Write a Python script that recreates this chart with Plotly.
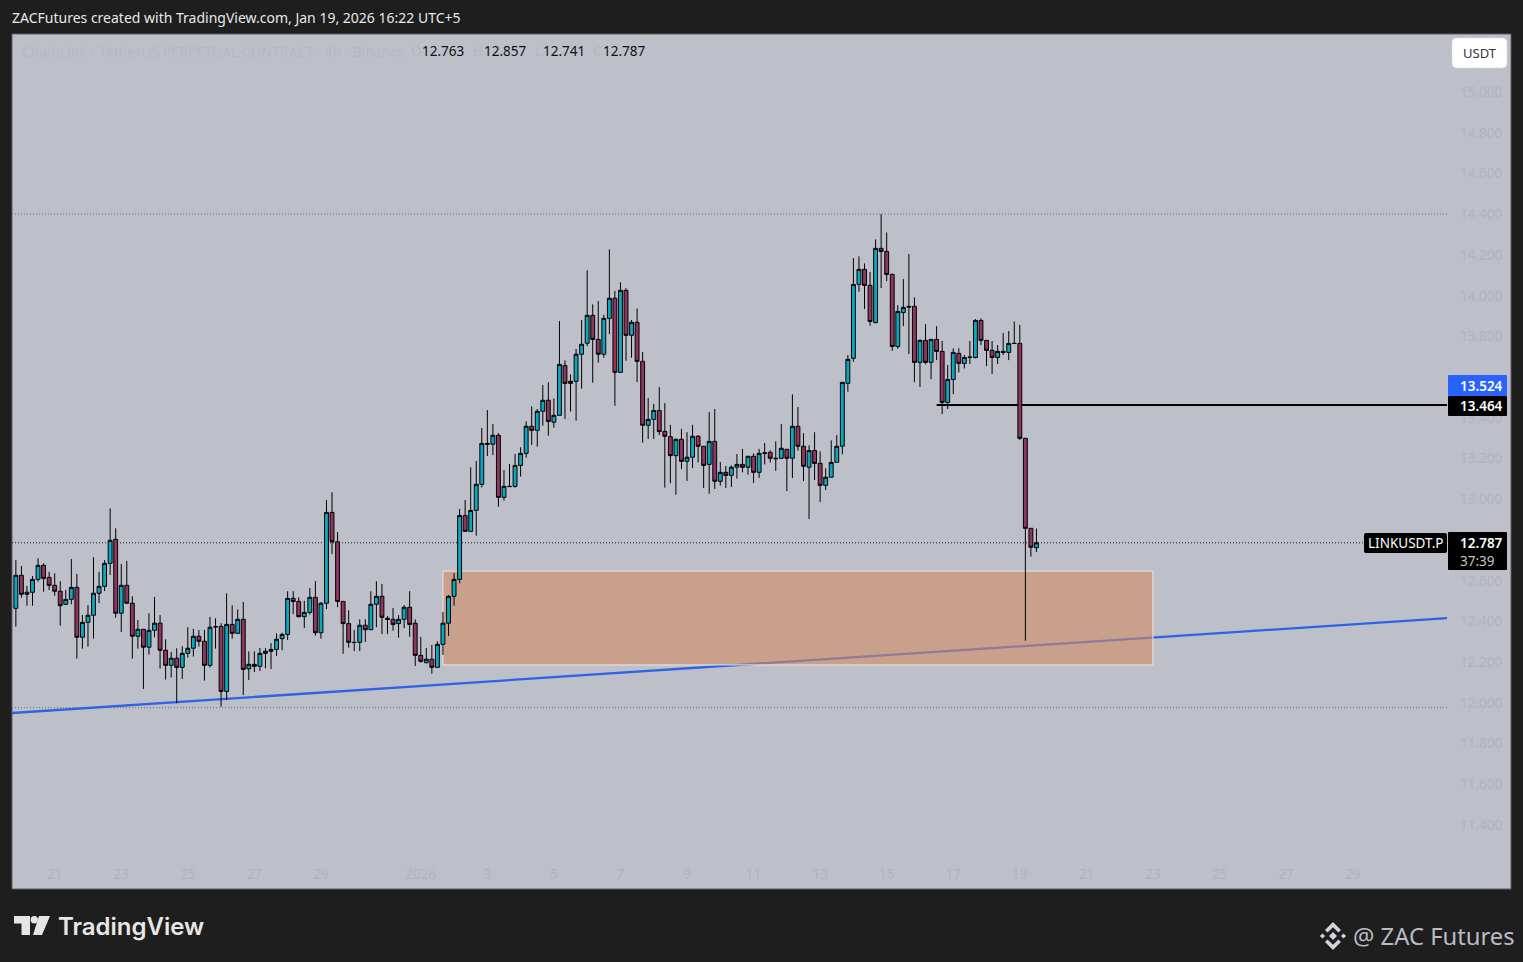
import pandas as pd
import plotly.graph_objects as go

W, H = 1523, 962
L, R, T, B = 12, 1447, 35, 857

opens = [12.465,12.627,12.534,12.544,12.607,12.676,12.617,12.578,12.549,12.485,12.509,12.568,12.323,12.396,12.431,12.539,12.573,12.686,12.804,12.441,
12.578,12.490,12.328,12.362,12.274,12.357,12.392,12.259,12.185,12.220,12.175,12.244,12.269,12.328,12.303,12.185,12.375,12.376,12.057,12.386,
12.342,12.411,12.168,12.190,12.180,12.244,12.254,12.263,12.316,12.337,12.514,12.499,12.424,12.445,12.519,12.345,12.490,12.936,12.792,12.499,
12.390,12.298,12.298,12.382,12.360,12.485,12.524,12.416,12.411,12.390,12.411,12.470,12.392,12.234,12.198,12.215,12.175,12.288,12.392,12.524,
12.607,12.921,12.843,12.946,13.074,13.275,13.271,13.315,13.010,13.064,13.064,13.167,13.226,13.359,13.339,13.433,13.487,13.379,13.413,13.658,
13.570,13.580,13.713,13.767,13.904,13.786,13.713,13.889,13.988,13.624,14.027,13.806,13.870,13.678,13.364,13.393,13.437,13.334,13.308,13.215,
13.295,13.187,13.207,13.310,13.261,13.172,13.285,13.089,13.133,13.118,13.158,13.172,13.158,13.212,13.133,13.229,13.231,13.202,13.202,13.246,
13.202,13.359,13.261,13.158,13.240,13.177,13.069,13.109,13.182,13.261,13.570,13.693,14.056,14.130,14.051,13.869,14.233,14.218,14.105,13.751,
13.918,13.948,13.948,13.673,13.781,13.673,13.786,13.727,13.476,13.589,13.717,13.668,13.697,13.697,13.879,13.781,13.732,13.697,13.727,13.722,
13.766,13.766,13.300,12.858,12.763]
highs = [12.702,12.673,12.575,12.624,12.711,12.686,12.644,12.637,12.598,12.555,12.707,12.634,12.432,12.481,12.716,12.644,12.702,12.956,12.858,12.683,
12.698,12.524,12.408,12.364,12.441,12.521,12.432,12.313,12.251,12.269,12.279,12.372,12.364,12.359,12.359,12.423,12.416,12.392,12.539,12.480,
12.460,12.496,12.254,12.254,12.270,12.269,12.294,12.342,12.345,12.549,12.549,12.519,12.502,12.565,12.599,12.496,12.997,13.035,12.840,12.499,
12.455,12.359,12.411,12.411,12.549,12.598,12.585,12.427,12.467,12.432,12.481,12.549,12.411,12.324,12.270,12.285,12.303,12.447,12.530,12.638,
12.953,12.997,13.158,13.189,13.351,13.439,13.370,13.325,13.144,13.174,13.223,13.256,13.383,13.457,13.444,13.562,13.575,13.496,13.876,13.683,
13.614,13.739,13.881,14.125,13.958,13.974,13.906,14.228,14.024,14.066,14.037,13.881,13.938,13.724,13.498,13.469,13.552,13.473,13.366,13.300,
13.346,13.330,13.366,13.316,13.261,13.429,13.444,13.184,13.164,13.167,13.223,13.248,13.212,13.226,13.248,13.277,13.241,13.285,13.370,13.246,
13.516,13.454,13.325,13.266,13.330,13.236,13.153,13.290,13.316,13.575,13.709,14.185,14.194,14.159,14.117,14.277,14.401,14.311,14.110,13.954,
14.082,14.205,13.992,13.786,13.861,13.786,13.851,13.778,13.660,13.742,13.742,13.709,13.778,13.886,13.889,13.781,13.778,13.758,13.817,13.827,
13.874,13.857,13.300,12.858,12.857]
lows = [12.375,12.517,12.478,12.478,12.596,12.547,12.555,12.527,12.380,12.481,12.485,12.218,12.267,12.277,12.316,12.491,12.550,12.629,12.419,12.349,
12.486,12.218,12.267,12.069,12.238,12.323,12.169,12.115,12.125,11.999,12.118,12.223,12.228,12.277,12.110,12.174,12.267,11.982,12.015,12.316,
12.339,12.039,12.113,12.152,12.157,12.170,12.167,12.231,12.259,12.309,12.437,12.421,12.368,12.434,12.331,12.316,12.461,12.732,12.471,12.242,
12.272,12.255,12.255,12.300,12.360,12.372,12.339,12.339,12.355,12.321,12.367,12.326,12.182,12.198,12.195,12.144,12.175,12.236,12.329,12.478,
12.588,12.842,12.843,12.822,13.058,13.213,13.218,12.964,12.994,13.061,13.058,13.112,13.205,13.267,13.259,13.362,13.313,13.352,13.413,13.395,
13.431,13.387,13.544,13.753,13.573,13.672,13.696,13.812,13.460,13.624,13.681,13.696,13.577,13.279,13.297,13.297,13.316,13.058,13.079,13.023,
13.149,13.091,13.154,13.182,13.056,13.028,13.051,13.068,13.056,13.061,13.102,13.133,13.122,13.081,13.105,13.172,13.181,13.140,13.199,13.041,
13.105,13.240,13.091,12.904,13.095,12.987,13.046,13.109,13.182,13.222,13.529,13.676,14.020,13.935,13.853,13.864,14.038,14.072,13.730,13.740,
13.851,13.714,13.576,13.552,13.663,13.591,13.684,13.419,13.444,13.517,13.624,13.643,13.665,13.693,13.758,13.655,13.616,13.665,13.709,13.684,
13.763,13.292,12.306,12.719,12.741]
closes = [12.627,12.534,12.544,12.607,12.676,12.612,12.578,12.549,12.478,12.509,12.568,12.323,12.396,12.431,12.539,12.573,12.686,12.799,12.441,12.578,
12.490,12.328,12.362,12.274,12.357,12.392,12.259,12.185,12.220,12.175,12.244,12.269,12.328,12.303,12.185,12.372,12.374,12.057,12.386,12.342,
12.411,12.165,12.190,12.180,12.244,12.254,12.263,12.313,12.337,12.514,12.498,12.424,12.445,12.519,12.345,12.490,12.936,12.792,12.499,12.390,
12.298,12.297,12.382,12.360,12.485,12.524,12.421,12.411,12.386,12.411,12.470,12.386,12.234,12.205,12.215,12.175,12.288,12.392,12.524,12.607,
12.921,12.843,12.946,13.074,13.275,13.271,13.315,13.010,13.064,13.063,13.167,13.226,13.359,13.339,13.433,13.487,13.383,13.413,13.663,13.570,
13.580,13.713,13.762,13.904,13.786,13.713,13.889,13.988,13.624,14.027,13.806,13.870,13.678,13.364,13.393,13.437,13.333,13.310,13.215,13.295,
13.187,13.207,13.310,13.261,13.167,13.285,13.089,13.133,13.118,13.158,13.172,13.158,13.212,13.133,13.226,13.227,13.202,13.200,13.251,13.202,
13.359,13.261,13.163,13.240,13.177,13.069,13.109,13.182,13.261,13.575,13.688,14.056,14.130,14.051,13.874,14.233,14.218,14.105,13.751,13.923,
13.943,13.945,13.673,13.781,13.673,13.786,13.727,13.476,13.589,13.722,13.668,13.697,13.699,13.879,13.781,13.732,13.697,13.727,13.722,13.766,
13.766,13.300,12.858,12.765,12.787]

last_bar_open = "2026-01-19 13:00"
x_range = ["2025-12-19 18:13", "2026-01-31 21:04"]
y_range = [11.2436, 15.281]
price_ticks = [11.4,11.6,11.8,12.0,12.2,12.4,12.6,13.0,13.2,13.4,13.8,14.0,14.2,14.4,14.6,14.8,15.0]
date_ticks = ["2025-12-21 01:00","2025-12-23 01:00","2025-12-25 01:00","2025-12-27 01:00","2025-12-29 01:00","2026-01-01 01:00",
              "2026-01-03 01:00","2026-01-05 01:00","2026-01-07 01:00","2026-01-09 01:00","2026-01-11 01:00","2026-01-13 01:00",
              "2026-01-15 01:00","2026-01-17 01:00","2026-01-19 01:00","2026-01-21 01:00","2026-01-23 01:00","2026-01-25 01:00",
              "2026-01-27 01:00","2026-01-29 01:00"]
date_labels = ["21","23","25","27","29","2026","3","5","7","9","11","13","15","17","19","21","23","25","27","29"]
zone_x = ["2026-01-01 17:00", "2026-01-23 01:00"]
zone_y = [12.187, 12.648]
trend_y = [11.951, 12.417]
level_x0 = "2026-01-16 13:00"
level_y = 13.464
last_price = 12.787
dotted_levels = [14.402, 11.977]

BG = "#1e1e1e"; PANEL = "#bec0c9"; FAINT = "#b1b3bc"; UP = "#0ba6c0"; DOWN = "#8e3560"
FONT = "Noto Sans"

def px(x): return x / W
def py(y): return 1 - y / H

def abs_path(cmds):
    out = []
    for c in cmds:
        if isinstance(c, str):
            out.append(c)
        else:
            out.append(f"{px(c[0]):.6f},{py(c[1]):.6f}")
    return " ".join(out)

def poly(*pts):
    cmds = []
    for i, p in enumerate(pts):
        cmds += ["M" if i == 0 else "L", p]
    return abs_path(cmds + ["Z"])

def rrect(x0, y0, x1, y1, r):
    return abs_path(["M",(x0+r,y0),"L",(x1-r,y0),"Q",(x1,y0),(x1,y0+r),"L",(x1,y1-r),"Q",(x1,y1),(x1-r,y1),
                     "L",(x0+r,y1),"Q",(x0,y1),(x0,y1-r),"L",(x0,y0+r),"Q",(x0,y0),(x0+r,y0),"Z"])

def paper_path(path, fill, line=None, lw=0, dash=None, layer="above"):
    return dict(type="path", xref="paper", yref="paper", path=path, fillcolor=fill, layer=layer,
                line=dict(color=line or fill, width=lw, dash=dash or "solid"))

def note(text, x, y, size=13, color="#000", anchor="left", family=FONT, weight=None):
    font = dict(size=size, color=color, family=family)
    if weight: font["weight"] = weight
    return dict(text=text, xref="paper", yref="paper", x=px(x), y=py(y), xanchor=anchor, yanchor="middle",
                showarrow=False, font=font, borderpad=0, borderwidth=0)

times = pd.date_range(end=last_bar_open, periods=len(opens), freq="4h")

fig = go.Figure(go.Candlestick(
    x=times, open=opens, high=highs, low=lows, close=closes,
    increasing=dict(line=dict(color="#000000", width=1), fillcolor=UP),
    decreasing=dict(line=dict(color="#000000", width=1), fillcolor=DOWN),
    whiskerwidth=0, showlegend=False, hoverinfo="skip",
))

DOTS = "1px,2px"
shapes = [
    dict(type="rect", xref="paper", yref="paper", x0=px(12), x1=px(1511), y0=py(34), y1=py(889),
         fillcolor=PANEL, line=dict(color="#5d5e63", width=1), layer="below"),
]
for lv in dotted_levels:
    shapes.append(dict(type="line", xref="x", yref="y", x0=x_range[0], x1=x_range[1], y0=lv, y1=lv,
                       line=dict(color="#6c6e75", width=1, dash=DOTS), layer="below"))
shapes += [
    dict(type="line", xref="x", yref="y", x0=x_range[0], x1=x_range[1], y0=last_price, y1=last_price,
         line=dict(color="#15161a", width=1, dash=DOTS), layer="below"),
    dict(type="line", xref="x", yref="y", x0=x_range[0], x1=x_range[1], y0=trend_y[0], y1=trend_y[1],
         line=dict(color="#2f62e6", width=2.3), layer="below"),
    dict(type="rect", xref="x", yref="y", x0=zone_x[0], x1=zone_x[1], y0=zone_y[0], y1=zone_y[1],
         fillcolor="rgba(208,138,100,0.6)", line=dict(color="#e9e7e4", width=1), layer="below"),
    dict(type="line", xref="x", yref="y", x0=level_x0, x1=x_range[1], y0=level_y, y1=level_y,
         line=dict(color="#000000", width=2), layer="below"),
    # price-scale labels
    paper_path(rrect(1448, 375, 1507, 396, 1), "#2962ff"),
    paper_path(rrect(1448, 396, 1507, 416, 1), "#000000"),
    paper_path(rrect(1448, 532, 1507, 570, 1), "#000000"),
    paper_path(rrect(1364, 533, 1447, 553, 2), "#000000"),
    # currency button
    paper_path(rrect(1452, 38, 1507, 68, 5), "#ffffff", line="#d8d8dc", lw=1, dash="dot"),
    # TradingView mark
    paper_path(poly((14,916),(30,916),(30,935),(21.5,935),(21.5,923.5),(14,923.5)), "#e6e4e4"),
    dict(type="circle", xref="paper", yref="paper", x0=px(30.6), x1=px(38), y0=py(916), y1=py(923.4),
         fillcolor="#e6e4e4", line=dict(width=0), layer="above"),
    paper_path(poly((39,916),(50,916),(42,935),(33,935)), "#e6e4e4"),
]
# exchange mark
cx, cy = 1333, 936
ICON = "#d3d4da"
shapes += [
    paper_path(poly((cx,cy-4),(cx+4,cy),(cx,cy+4),(cx-4,cy)), ICON),
    paper_path(poly((cx-10.5,cy-2.6),(cx-7.9,cy),(cx-10.5,cy+2.6),(cx-13.1,cy)), ICON),
    paper_path(poly((cx+10.5,cy-2.6),(cx+13.1,cy),(cx+10.5,cy+2.6),(cx+7.9,cy)), ICON),
    paper_path(poly((cx,cy-14),(cx+8,cy-6),(cx+5.4,cy-3.4),(cx,cy-8.8),(cx-5.4,cy-3.4),(cx-8,cy-6)), ICON),
    paper_path(poly((cx,cy+14),(cx+8,cy+6),(cx+5.4,cy+3.4),(cx,cy+8.8),(cx-5.4,cy+3.4),(cx-8,cy+6)), ICON),
]

annotations = [
    note("ZACFutures created with TradingView.com, Jan 19, 2026 16:22 UTC+5", 12, 18, 14, "#e8e8e8"),
    note("ChainLink / TetherUS PERPETUAL CONTRACT · 4h · Binance", 22, 51, 14, "#b6b8c1"),
    note("O", 411, 51, 13.5, "#b6b8c1"), note("12.763", 422, 51, 13.5, "#111"),
    note("H", 473, 51, 13.5, "#b6b8c1"), note("12.857", 484, 51, 13.5, "#111"),
    note("L", 535, 51, 13.5, "#b6b8c1"), note("12.741", 543, 51, 13.5, "#111"),
    note("C", 593, 51, 13.5, "#b6b8c1"), note("12.787", 603, 51, 13.5, "#111"),
    note("USDT", 1480, 53, 13, "#34343c", "center"),
    note("13.524", 1481, 386, 13.5, "#ffffff", "center", weight=600),
    note("13.464", 1481, 406, 13.5, "#ffffff", "center", weight=600),
    note("12.787", 1481, 543, 13.5, "#ffffff", "center", weight=600),
    note("37:39", 1477, 561, 13.5, "#c4c4c4", "center"),
    note("LINKUSDT.P", 1405, 543, 13.5, "#ffffff", "center"),
    note("TradingView", 58, 926, 24, "#e8e6e6", family="Inter", weight=600),
    note("@ ZAC Futures", 1353, 936, 23.8, "#b9bbc4"),
]

fig.update_layout(
    width=W, height=H, margin=dict(l=0, r=0, t=0, b=0, autoexpand=False),
    paper_bgcolor=BG, plot_bgcolor="rgba(0,0,0,0)", boxgap=0.0,
    showlegend=False, shapes=shapes, annotations=annotations,
    font=dict(family=FONT),
    xaxis=dict(domain=[px(L), px(R)], range=x_range, type="date", rangeslider=dict(visible=False),
               showgrid=False, zeroline=False, showline=False, ticks="",
               tickmode="array", tickvals=date_ticks, ticktext=date_labels,
               tickfont=dict(size=13.5, color=FAINT, family=FONT), ticklabelstandoff=7),
    yaxis=dict(domain=[py(B), py(T)], range=y_range, side="right", showgrid=False, zeroline=False, showline=False,
               ticks="", tickmode="array", tickvals=price_ticks, ticktext=[f"{v:.3f}" for v in price_ticks],
               tickfont=dict(size=13.5, color=FAINT, family=FONT), ticklabelstandoff=12),
)
fig.write_html("out.html", config={"displayModeBar": False},
               post_script="document.body.style.margin='0';document.documentElement.style.background='#1e1e1e';")
